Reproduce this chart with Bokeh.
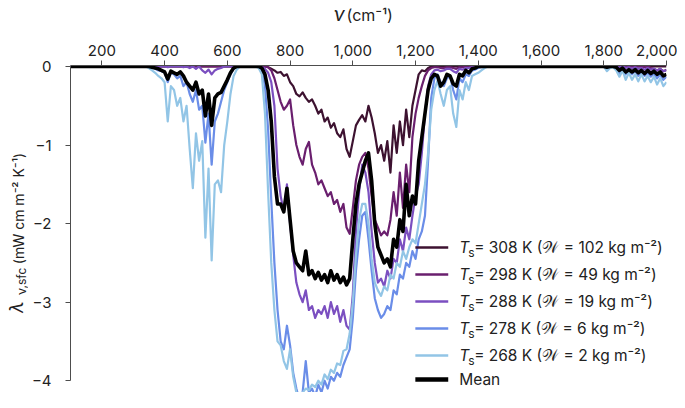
import math
from bokeh.plotting import figure
from bokeh.models import Range1d, FixedTicker, NumeralTickFormatter, Label
from bokeh.layouts import column, row
from bokeh.core.properties import value
from bokeh.embed import file_html
from bokeh.resources import INLINE

# ---------------- data ----------------
NU_A = list(range(340, 661, 10))     # 33 points
NU_B = list(range(690, 1461, 10))    # 78 points
NU_C = list(range(1790, 2001, 10))   # 22 points
nu = [100] + NU_A + NU_B + NU_C

s308_a = [0] * 33
s308_b = [0, 0, 0, 0, -0.01, -0.03, -0.05, -0.08, -0.07, -0.12,
          -0.1, -0.2, -0.25, -0.35, -0.38, -0.33, -0.4, -0.45, -0.42, -0.5,
          -0.6, -0.55, -0.7, -0.65, -0.78, -0.72, -0.85, -0.9, -0.8, -1.05,
          -1.15, -0.95, -0.75, -0.68, -0.62, -0.7, -0.5, -0.65, -0.85, -1.1,
          -1.0, -1.2, -0.95, -1.35, -0.75, -1.1, -0.7, -1.0, -0.55, -0.9,
          -0.5, -0.3, -0.1, -0.05, -0.06, -0.02, 0, 0, 0, 0,
          0, 0, 0, 0, 0, 0, 0, 0, 0, 0,
          0, 0, 0, 0, 0, 0, 0, 0]
s308_c = [0] * 22

s298_a = [0] * 33
s298_b = [0, 0, 0, 0, -0.01, -0.05, -0.15, -0.3, -0.45, -0.55,
          -0.5, -0.42, -0.75, -1.0, -1.15, -1.25, -1.05, -0.96, -1.25, -1.35,
          -1.5, -1.45, -1.55, -1.65, -1.6, -1.75, -1.7, -1.85, -1.75, -2.05,
          -2.13, -1.8, -1.45, -1.25, -1.15, -1.1, -1.3, -1.65, -1.95, -2.05,
          -2.15, -2.1, -2.15, -1.95, -1.6, -1.9, -1.35, -1.8, -1.25, -1.6,
          -0.9, -0.6, -0.4, -0.25, -0.12, -0.05, -0.02, -0.01, -0.01, -0.02,
          -0.02, -0.01, -0.01, -0.02, -0.03, -0.01, -0.01, 0, 0, 0,
          0, 0, 0, 0, 0, 0, 0, 0]
s298_c = [0, 0, 0, 0, 0, 0, 0, 0, 0, 0, 0, 0, 0, 0,
          -0.01, 0, -0.02, -0.03, -0.05, -0.03, -0.06, -0.04]

s288_a = [0, 0, 0, 0, 0, 0, 0, -0.01, 0, 0, 0, 0, -0.01, 0, -0.02, 0, -0.03,
          0, -0.05, -0.08, -0.04, -0.1, -0.05, -0.03, -0.02, 0, 0, 0, 0, 0, 0, 0, 0]
s288_b = [0, 0, -0.01, -0.03, -0.08, -0.2, -0.5, -1.3, -1.65, -1.85,
          -1.5, -2.0, -2.4, -2.75, -2.9, -3.0, -2.85, -3.1, -3.05, -3.2,
          -3.1, -3.15, -3.05, -3.2, -3.0, -3.15, -3.05, -3.25, -3.1, -3.3,
          -3.35, -2.9, -2.1, -1.6, -1.25, -1.35, -1.6, -2.1, -2.5, -2.75,
          -2.7, -2.8, -2.6, -2.7, -2.45, -2.5, -2.2, -2.35, -2.05, -2.2,
          -1.9, -1.65, -1.5, -1.1, -0.6, -0.25, -0.1, -0.05, -0.04, -0.06,
          -0.05, -0.03, -0.03, -0.06, -0.08, -0.03, -0.04, -0.02, -0.02, -0.01,
          0, 0, 0, 0, 0, 0, 0, 0]
s288_c = [0, 0, 0, 0, 0, 0, -0.01, 0, -0.02, -0.01, -0.03, -0.01, -0.03, -0.02,
          -0.04, -0.02, -0.04, -0.03, -0.05, -0.03, -0.06, -0.05]

s278_a = [0, 0, -0.01, -0.03, -0.05, -0.06, -0.08, -0.2, -0.08, -0.1, -0.15,
          -0.12, -0.25, -0.2, -0.35, -0.45, -0.3, -0.55, -0.5, -0.97, -0.6,
          -1.25, -0.7, -0.6, -0.45, -0.3, -0.2, -0.1, -0.03, 0, 0, 0, 0]
s278_b = [0, -0.01, -0.05, -0.25, -0.8, -1.7, -2.5, -3.1, -3.5, -3.6,
          -3.3, -3.55, -3.9, -4.1, -4.25, -4.15, -3.75, -4.15, -4.1, -4.2,
          -4.05, -4.15, -4.0, -4.1, -3.95, -4.0, -3.9, -3.95, -3.8, -3.7,
          -3.6, -3.2, -2.6, -2.2, -1.9, -1.85, -2.2, -2.6, -2.95, -3.1,
          -3.2, -3.15, -3.05, -3.1, -2.85, -2.9, -2.65, -2.7, -2.5, -2.55,
          -2.35, -2.45, -2.2, -2.1, -1.9, -1.2, -0.4, -0.15, -0.1, -0.2,
          -0.25, -0.15, -0.12, -0.3, -0.42, -0.15, -0.2, -0.1, -0.12, -0.05,
          -0.04, -0.02, -0.01, 0, 0, 0, 0, 0]
s278_c = [0, 0, -0.03, -0.01, 0, -0.03, -0.08, -0.03, -0.1, -0.05, -0.1,
          -0.06, -0.12, -0.07, -0.12, -0.08, -0.13, -0.09, -0.15, -0.1, -0.17, -0.13]

s268_a = [0, -0.02, -0.05, -0.08, -0.12, -0.15, -0.2, -0.7, -0.25, -0.3, -0.5,
          -0.4, -0.7, -0.5, -1.05, -1.55, -0.85, -1.2, -0.95, -2.18, -1.3,
          -2.47, -1.5, -1.45, -1.6, -1.0, -0.7, -0.35, -0.12, -0.04, 0, 0, 0]
s268_b = [0, -0.02, -0.1, -0.6, -1.6, -2.5, -3.1, -3.5, -3.55, -3.75,
          -3.85, -3.6, -3.95, -4.15, -4.2, -4.15, -4.1, -4.12, -4.05, -4.08,
          -4.0, -4.05, -3.92, -3.98, -3.86, -3.9, -3.78, -3.8, -3.62, -3.6,
          -3.4, -3.0, -2.4, -1.95, -1.75, -1.75, -2.0, -2.45, -2.75, -2.85,
          -2.92, -2.8, -2.85, -2.65, -2.7, -2.5, -2.55, -2.35, -2.45, -2.3,
          -2.2, -2.25, -2.0, -1.75, -1.5, -1.1, -0.55, -0.3, -0.18, -0.35,
          -0.5, -0.3, -0.25, -0.6, -0.77, -0.3, -0.42, -0.2, -0.3, -0.12,
          -0.1, -0.08, -0.05, -0.02, 0, 0, 0, 0]
s268_c = [0, 0, -0.06, -0.02, -0.01, -0.05, -0.13, -0.05, -0.17, -0.08, -0.17,
          -0.1, -0.19, -0.1, -0.19, -0.12, -0.2, -0.13, -0.23, -0.15, -0.25, -0.2]

mean_a = [0, 0, -0.01, -0.02, -0.03, -0.05, -0.07, -0.16, -0.06, -0.08, -0.1,
          -0.07, -0.12, -0.2, -0.25, -0.3, -0.2, -0.35, -0.3, -0.63, -0.35,
          -0.75, -0.4, -0.35, -0.33, -0.25, -0.17, -0.08, -0.02, 0, 0, 0, 0]
mean_b = [0, 0, -0.02, -0.1, -0.3, -0.7, -1.4, -1.75, -1.75, -1.85,
          -1.55, -1.95, -2.35, -2.5, -2.55, -2.6, -2.35, -2.65, -2.6, -2.7,
          -2.62, -2.72, -2.65, -2.75, -2.6, -2.72, -2.65, -2.75, -2.68, -2.78,
          -2.7, -2.2, -1.75, -1.5, -1.35, -1.2, -1.1, -1.45, -2.0, -2.3,
          -2.4, -2.5, -2.45, -2.55, -2.2, -2.3, -1.95, -2.1, -1.5, -1.9,
          -1.65, -1.75, -1.2, -0.9, -0.6, -0.3, -0.15, -0.1, -0.12, -0.25,
          -0.2, -0.1, -0.12, -0.22, -0.25, -0.1, -0.12, -0.05, -0.08, -0.03,
          -0.02, 0, 0, 0, 0, 0, 0, 0]
mean_c = [0, 0, -0.01, 0, 0, -0.01, -0.05, -0.02, -0.07, -0.04, -0.07,
          -0.04, -0.08, -0.05, -0.09, -0.05, -0.09, -0.06, -0.1, -0.07, -0.12, -0.1]

TS = ["308", "298", "288", "278", "268"]
WV = ["102", "49", "19", "6", "2"]
COLORS = ["#3d1230", "#6a1f6e", "#7b4fc0", "#6a8de8", "#92c5e6"]
SERIES = [
    [0] + s308_a + s308_b + s308_c,
    [0] + s298_a + s298_b + s298_c,
    [0] + s288_a + s288_b + s288_c,
    [0] + s278_a + s278_b + s278_c,
    [0] + s268_a + s268_b + s268_c,
]
MEAN = [0] + mean_a + mean_b + mean_c
for s in SERIES + [MEAN]:
    assert len(s) == len(nu), (len(s), len(nu))

X_TICKS = [200, 400, 600, 800, 1000, 1200, 1400, 1600, 1800, 2000]
Y_TICKS = [0, -1, -2, -3, -4]

# ---------------- layout (canvas pixels) ----------------
W, H = 677, 392          # whole picture
TOP_H = 30               # strip holding the top axis title
LEFT_W = 28              # strip holding the left axis title
MAIN_W, MAIN_H = W - LEFT_W, H - TOP_H
FL, FR, FT, FB = 68, 666, 65, 392   # plot frame in picture pixels
X0, X1 = 100, 2000
Y0, Y1 = -4.15, 0.0125
FONT = "Inter"
TXT = "#222222"


def dx(px):
    return X0 + (px - FL) * (X1 - X0) / (FR - FL)


def dy(py):
    return Y1 - (py - FT) * (Y1 - Y0) / (FB - FT)


p = figure(width=MAIN_W, height=MAIN_H, x_range=Range1d(X0, X1),
           y_range=Range1d(Y0, Y1), x_axis_location="above",
           output_backend="svg", toolbar_location=None, title=None,
           min_border_left=FL - LEFT_W, min_border_right=W - FR,
           min_border_top=FT - TOP_H, min_border_bottom=H - FB)
p.outline_line_color = None
p.xgrid.visible = False
p.ygrid.visible = False

for ax in (p.xaxis[0], p.yaxis[0]):
    ax.axis_line_color = "#4d4d4d"
    ax.major_tick_line_color = "#4d4d4d"
    ax.major_tick_out = 5
    ax.major_tick_in = 0
    ax.minor_tick_out = 0
    ax.minor_tick_in = 0
    ax.major_label_text_font = FONT
    ax.major_label_text_font_size = "15px"
    ax.major_label_text_color = TXT

p.xaxis.ticker = FixedTicker(ticks=X_TICKS)
p.xaxis.formatter = NumeralTickFormatter(format="0,0")
p.xaxis.major_label_standoff = 5
p.yaxis.ticker = FixedTicker(ticks=Y_TICKS)
p.yaxis.bounds = (-4, 0)
p.yaxis.major_label_standoff = 14

for s, c in zip(SERIES, COLORS):
    p.line(nu, s, line_color=c, line_width=2.2, line_join="round")
p.line(nu, MEAN, line_color="black", line_width=3.6, line_join="round")


def lab(px, py, text, size="15.5px", style="normal"):
    p.add_layout(Label(x=dx(px), y=dy(py), text=text, text_font=FONT,
                       text_font_size=size, text_font_style=style,
                       text_color=TXT, text_align="left",
                       text_baseline="middle"))


# legend (inside the frame)
ROWS = [247, 274, 301, 328, 355, 379]
LX = 414
for i, c in enumerate(COLORS + ["black"]):
    yy = dy(ROWS[i])
    p.segment(x0=[dx(LX)], y0=[yy], x1=[dx(LX + 33)], y1=[yy], line_color=c,
              line_width=2.5 if i < 5 else 4.5)
for i in range(5):
    lab(LX + 44, ROWS[i], "T", style="italic")
    lab(LX + 53, ROWS[i] + 5, "s", size="12px")
    lab(LX + 59, ROWS[i], " = " + TS[i] + " K (𝒲 = " + WV[i] + " kg m⁻²)")
lab(LX + 44, ROWS[5], "Mean")


def strip(w, h):
    f = figure(width=w, height=h, x_range=Range1d(0, w), y_range=Range1d(0, h),
               output_backend="svg", toolbar_location=None, title=None,
               x_axis_location=None, y_axis_location=None,
               min_border_left=0, min_border_right=0, min_border_top=0,
               min_border_bottom=0)
    f.outline_line_color = None
    f.grid.visible = False
    return f


# top strip: ν (cm⁻¹)
top = strip(W, TOP_H)
top.text(x=[333], y=[TOP_H - 14], text=["ν"], text_font=value(FONT),
         text_font_size="19px", text_font_style="italic", text_color=TXT,
         text_align="left", text_baseline="middle")
top.text(x=[346], y=[TOP_H - 14], text=["(cm⁻¹)"], text_font=value(FONT),
         text_font_size="16px", text_color=TXT, text_align="left",
         text_baseline="middle")

# left strip: λν,sfc (mW cm m⁻² K⁻¹), rotated
left = strip(LEFT_W, MAIN_H)
A = math.pi / 2


def ly(py):
    return MAIN_H - (py - TOP_H)


left.text(x=[16], y=[ly(304)], text=["λ"], text_font=value(FONT),
          text_font_size="18px", text_font_style="italic", text_color=TXT,
          text_align="left", text_baseline="middle", angle=A)
left.text(x=[21], y=[ly(284)], text=["ν,sfc"], text_font=value(FONT),
          text_font_size="12px", text_color=TXT, text_align="left",
          text_baseline="middle", angle=A)
left.text(x=[18], y=[ly(250)], text=["(mW cm m⁻² K⁻¹)"], text_font=value(FONT),
          text_font_size="14px", text_color=TXT, text_align="left",
          text_baseline="middle", angle=A)

layout = column(top, row(left, p, spacing=0), spacing=0)

open("out.html", "w").write(file_html(layout, INLINE))
